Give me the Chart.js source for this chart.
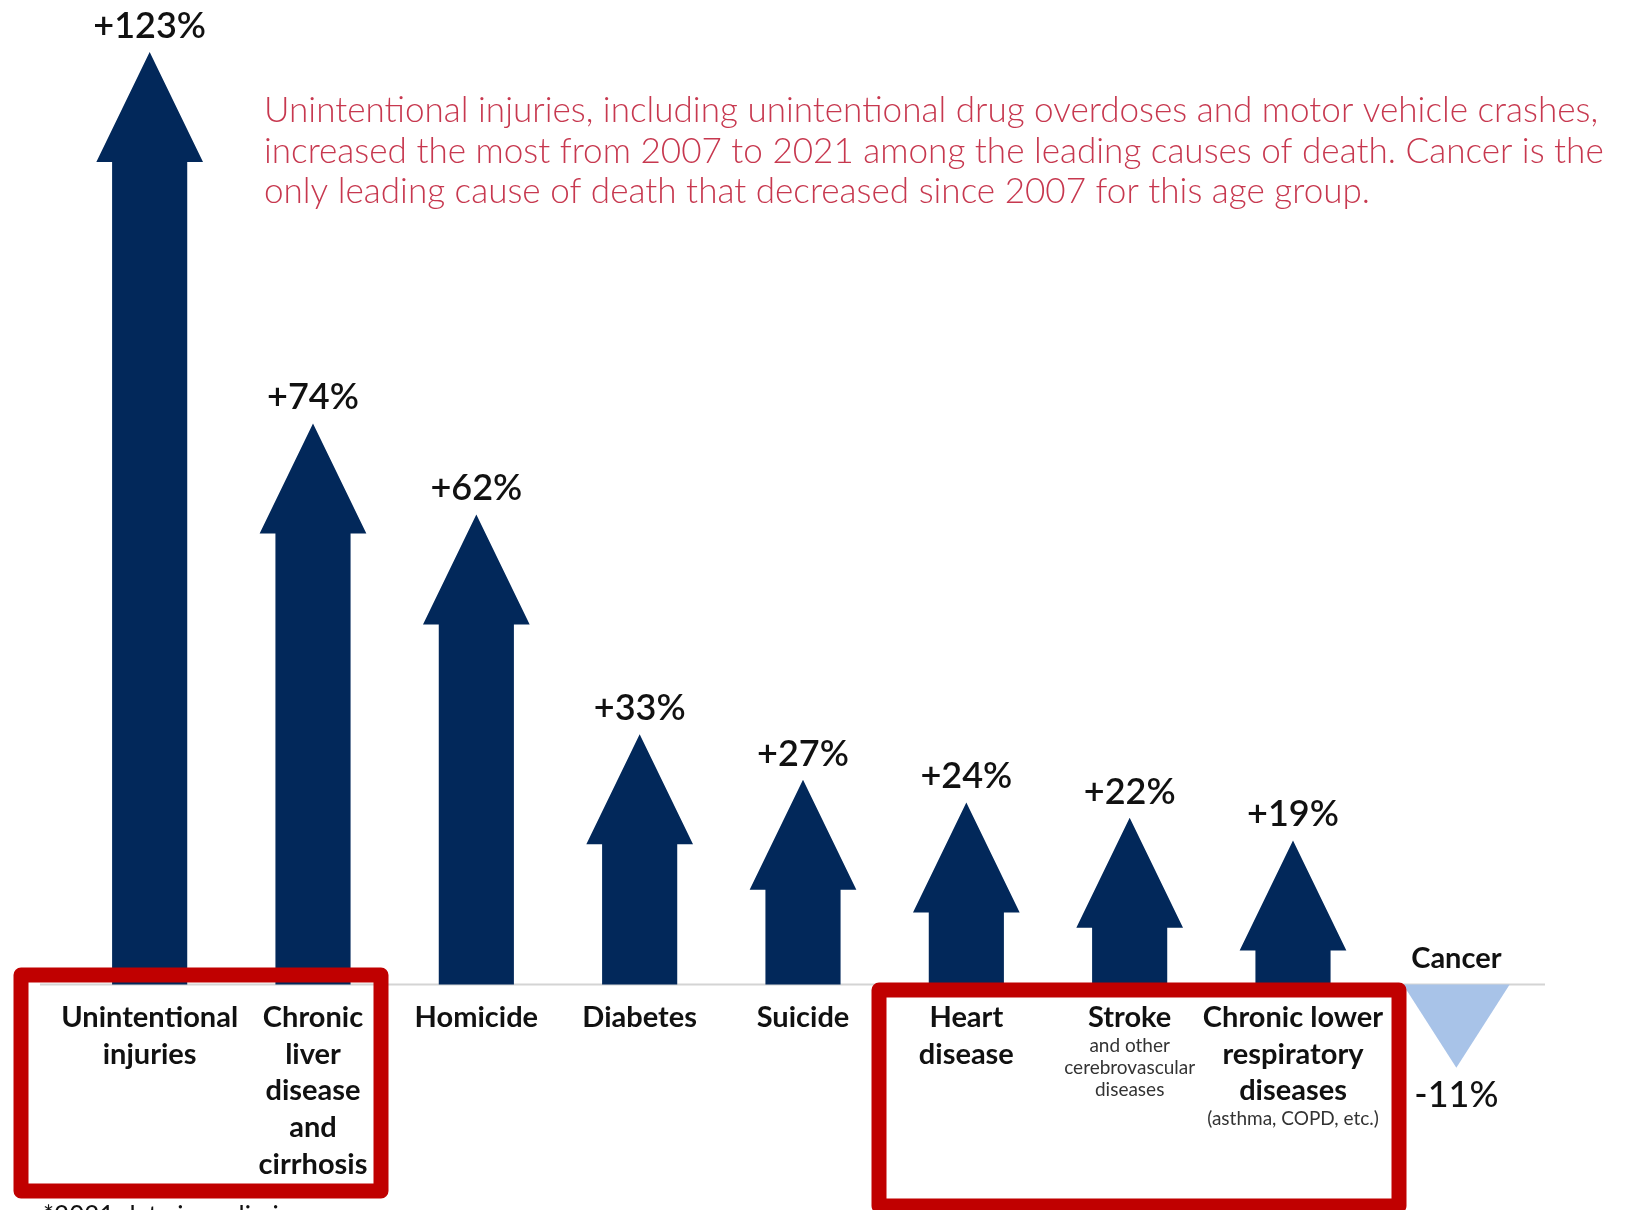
<!DOCTYPE html>
<html>
<head>
<meta charset="utf-8">
<script src="https://cdn.jsdelivr.net/npm/chart.js@4.4.1/dist/chart.umd.min.js"></script>
<style>
  html, body { margin: 0; padding: 0; background: #fff; }
  #myChart { display: block; }
</style>
</head>
<body>
<canvas id="myChart" width="1643" height="1210"></canvas>
<script>
const causes = [
    "Unintentional injuries",
    "Chronic liver disease and cirrhosis",
    "Homicide",
    "Diabetes",
    "Suicide",
    "Heart disease",
    "Stroke",
    "Chronic lower respiratory diseases",
    "Cancer"
]
const changes = [123, 74, 62, 33, 27, 24, 22, 19, -11]

// how each category name is broken into lines under the axis
const nameLines = [
    ["Unintentional", "injuries"],
    ["Chronic", "liver", "disease", "and", "cirrhosis"],
    ["Homicide"],
    ["Diabetes"],
    ["Suicide"],
    ["Heart", "disease"],
    ["Stroke"],
    ["Chronic lower", "respiratory", "diseases"],
    ["Cancer"]
]
const nameNotes = [[], [], [], [], [], [], ["and other", "cerebrovascular", "diseases"], ["(asthma, COPD, etc.)"], []]

const headline = [
    "Unintentional injuries, including unintentional drug overdoses and motor vehicle crashes,",
    "increased the most from 2007 to 2021 among the leading causes of death. Cancer is the",
    "only leading cause of death that decreased since 2007 for this age group."
]
const footnote = "*2021 data is preliminary"

const NAVY = "#02285a"
const LIGHT = "#a8c3e8"
const RED = "#c00000"
const FONT = "Lato, 'Open Sans', sans-serif"

function fmt(v) {
    return (v > 0 ? "+" : "") + v + "%"
}

// arrows, labels and the highlight boxes are drawn over the (invisible) bars
const arrowPlugin = {
    id: "arrows",
    beforeDatasetsDraw(chart) {
        const ctx = chart.ctx
        const y0 = chart.scales.y.getPixelForValue(0)
        ctx.save()
        ctx.strokeStyle = "#d4d4d4"
        ctx.lineWidth = 2
        ctx.beginPath()
        ctx.moveTo(chart.chartArea.left - 28, y0)
        ctx.lineTo(chart.chartArea.right + 7, y0)
        ctx.stroke()
        ctx.restore()
    },
    afterDatasetsDraw(chart) {
        const ctx = chart.ctx
        const meta = chart.getDatasetMeta(0)
        ctx.save()

        meta.data.forEach((bar, i) => {
            const {x, y, base, width} = bar.getProps(["x", "y", "base", "width"], true)
            const up = y < base
            const dir = up ? 1 : -1
            const len = Math.abs(base - y)
            const headH = Math.min(110, len)
            const headW = width * 1.42

            ctx.fillStyle = up ? NAVY : LIGHT
            ctx.beginPath()
            ctx.moveTo(x, y)
            ctx.lineTo(x + headW / 2, y + dir * headH)
            ctx.lineTo(x + width / 2, y + dir * headH)
            ctx.lineTo(x + width / 2, base)
            ctx.lineTo(x - width / 2, base)
            ctx.lineTo(x - width / 2, y + dir * headH)
            ctx.lineTo(x - headW / 2, y + dir * headH)
            ctx.closePath()
            ctx.fill()

            // value label
            ctx.fillStyle = "#111"
            ctx.textAlign = "center"
            if (up) {
                ctx.font = "600 36px " + FONT
                ctx.textBaseline = "alphabetic"
                ctx.fillText(fmt(changes[i]), x, y - 14)
            } else {
                ctx.font = "500 36px " + FONT
                ctx.textBaseline = "top"
                ctx.fillText(fmt(changes[i]), x, y + 10)
            }

            // category name
            ctx.fillStyle = "#111"
            ctx.font = "700 29px " + FONT
            ctx.textBaseline = "middle"
            if (up) {
                nameLines[i].forEach((line, k) => ctx.fillText(line, x, base + 33 + k * 36.7))
                const ny = base + 33 + (nameLines[i].length - 0.35) * 36.7
                const multi = nameNotes[i].length > 1
                ctx.fillStyle = "#333"
                ctx.font = "400 19px " + FONT
                nameNotes[i].forEach((line, k) => ctx.fillText(line, x, ny + (multi ? 5 + k * 22 : 4)))
            } else {
                nameLines[i].forEach((line, k) => ctx.fillText(line, x, base - 26 - k * 36.7))
            }
        })

        // highlight boxes
        ctx.strokeStyle = RED
        ctx.lineWidth = 15
        ctx.lineJoin = "round"
        ctx.strokeRect(21, 975, 360, 216)
        ctx.strokeRect(879, 990, 520, 216)

        // headline note, sized so the first line spans the text block
        ctx.fillStyle = "#c7384f"
        ctx.textAlign = "left"
        ctx.textBaseline = "middle"
        ctx.font = "300 30px " + FONT
        const size = 30 * 1336 / ctx.measureText(headline[0]).width
        ctx.font = "300 " + size.toFixed(1) + "px " + FONT
        headline.forEach((line, k) => ctx.fillText(line, 264, 111 + k * 40.5))

        // footnote, mostly below the bottom edge
        ctx.fillStyle = "#111"
        ctx.font = "400 26px " + FONT
        ctx.textBaseline = "top"
        ctx.fillText(footnote, 43, 1204)

        ctx.restore()
    }
}

new Chart(document.getElementById("myChart"), {
    type: "bar",
    data: {
        labels: causes,
        datasets: [{
            data: changes,
            backgroundColor: "rgba(0,0,0,0)",
            barPercentage: 0.46,
            categoryPercentage: 1
        }]
    },
    options: {
        responsive: false,
        animation: false,
        layout: { padding: { left: 68, right: 105, top: 14, bottom: 36 } },
        plugins: { legend: { display: false }, tooltip: { enabled: false } },
        scales: {
            x: { display: false },
            y: { display: false, min: -25, max: 128 }
        }
    },
    plugins: [arrowPlugin]
})
</script>
</body>
</html>
